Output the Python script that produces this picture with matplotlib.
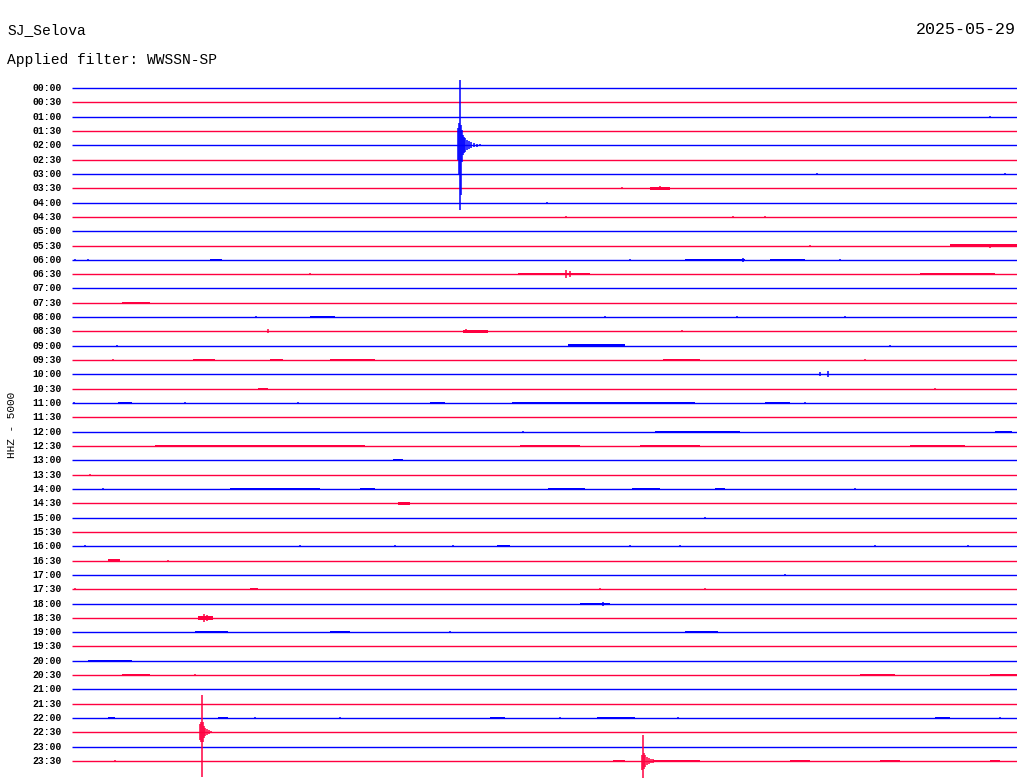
import matplotlib
matplotlib.use("Agg")
import matplotlib.pyplot as plt

# ---------------- data ----------------
station = "SJ_Selova"
date_label = "2025-05-29"
filter_label = "Applied filter: WWSSN-SP"
channel_label = "HHZ - 5000"

row_labels = [f"{h:02d}:{m:02d}" for h in range(24) for m in (0, 30)]
minutes_per_row = 30

# isolated spikes: (row, minute, amplitude up, amplitude down)  [amplitude units]
spikes = [
    (2, 29.14, 1, 1),
    (4, 12.25, 17, 15), (4, 12.29, 22, 30), (4, 12.32, 65, 65), (4, 12.35, 20, 50),
    (4, 12.38, 15, 17), (4, 12.41, 10, 10), (4, 12.44, 8, 8), (4, 12.48, 7, 7),
    (4, 12.54, 5, 5), (4, 12.60, 4, 4), (4, 12.67, 3, 3), (4, 12.76, 2, 2),
    (4, 12.86, 1.5, 1.5), (4, 12.95, 1, 1),
    (6, 23.65, 1, 1), (6, 29.62, 1, 1),
    (7, 17.46, 1, 1), (7, 18.67, 2, 2),
    (8, 15.08, 1, 1),
    (9, 15.68, 1, 1), (9, 20.98, 1, 1), (9, 22.0, 1, 1),
    (11, 23.43, 1, 1), (11, 29.14, 2, 2),
    (12, 0.10, 1, 1), (12, 0.51, 1, 1), (12, 17.71, 1, 1), (12, 21.30, 2, 2), (12, 24.38, 1, 1),
    (13, 7.56, 1, 1), (13, 15.68, 4, 4), (13, 15.80, 3, 3),
    (16, 5.84, 1, 1), (16, 16.92, 1, 1), (16, 21.11, 1, 1), (16, 24.54, 1, 1),
    (17, 6.22, 2, 2), (17, 12.50, 2, 2), (17, 13.05, 1.5, 1.5), (17, 19.37, 1, 1),
    (18, 1.43, 1, 1), (18, 25.97, 1, 1),
    (19, 1.30, 1, 1), (19, 25.17, 1, 1),
    (20, 23.75, 2, 2), (20, 24.00, 3, 3),
    (21, 27.40, 1, 1),
    (22, 0.05, 1, 1), (22, 3.59, 1, 1), (22, 7.17, 1, 1), (22, 23.27, 1, 1),
    (24, 14.32, 1, 1),
    (27, 0.57, 1, 1),
    (28, 0.98, 1, 1), (28, 24.86, 1, 1),
    (30, 20.10, 1, 1),
    (32, 0.41, 1, 1), (32, 7.24, 1, 1), (32, 10.25, 1, 1), (32, 12.10, 1, 1),
    (32, 17.71, 1, 1), (32, 19.30, 1, 1), (32, 25.49, 1, 1), (32, 28.44, 1, 1),
    (33, 3.05, 1, 1),
    (34, 22.63, 1, 1),
    (35, 0.10, 1, 1), (35, 16.76, 1, 1), (35, 20.10, 1, 1),
    (36, 16.86, 2, 2),
    (37, 4.20, 4, 4), (37, 4.30, 3, 3),
    (38, 12.00, 1, 1),
    (41, 3.90, 1, 1),
    (44, 5.81, 1, 1), (44, 8.51, 1, 1), (44, 15.49, 1, 1), (44, 19.24, 1, 1), (44, 29.46, 1, 1),
    (45, 4.07, 8, 8), (45, 4.10, 10, 10), (45, 4.13, 37, 45), (45, 4.16, 10, 10),
    (45, 4.19, 6, 6), (45, 4.22, 4, 4), (45, 4.29, 3, 3), (45, 4.35, 2, 2), (45, 4.41, 1, 1),
    (47, 1.37, 1, 1),
    (47, 18.10, 6, 9), (47, 18.13, 26, 17), (47, 18.16, 8, 8), (47, 18.19, 6, 6),
    (47, 18.25, 4, 4), (47, 18.32, 3, 3), (47, 18.38, 2, 2), (47, 18.44, 2, 2),
]

# noise bursts: (row, start minute, end minute, amplitude)
bands = [
    (7, 18.35, 18.98, 1),
    (11, 27.87, 30.0, 0.7),
    (12, 4.38, 4.76, 0.7), (12, 19.46, 21.37, 0.7), (12, 22.16, 23.27, 0.7),
    (13, 14.16, 16.44, 1), (13, 26.92, 29.30, 0.7),
    (15, 1.59, 2.48, 0.7),
    (16, 7.56, 8.35, 1),
    (17, 12.41, 13.21, 1),
    (18, 15.75, 17.56, 1),
    (19, 3.84, 4.54, 0.5), (19, 6.29, 6.70, 0.5), (19, 8.19, 9.62, 0.7), (19, 18.76, 19.94, 0.7),
    (21, 5.90, 6.22, 0.5),
    (22, 1.46, 1.90, 0.7), (22, 11.37, 11.84, 1), (22, 13.97, 19.78, 1), (22, 22.0, 22.79, 0.7),
    (24, 18.51, 21.21, 0.7), (24, 29.30, 29.84, 0.7),
    (25, 2.63, 7.40, 0.4), (25, 7.40, 9.30, 1), (25, 14.22, 16.13, 0.7),
    (25, 18.03, 19.94, 0.5), (25, 26.60, 28.35, 1),
    (26, 10.19, 10.51, 0.7),
    (28, 5.02, 7.87, 0.5), (28, 9.14, 9.62, 0.7), (28, 15.11, 16.29, 0.7),
    (28, 17.78, 18.67, 0.7), (28, 20.41, 20.73, 0.5),
    (29, 10.35, 10.73, 1.5),
    (32, 13.49, 13.90, 0.7),
    (33, 1.14, 1.52, 1.5),
    (35, 5.65, 5.90, 0.7),
    (36, 16.13, 17.08, 0.5),
    (37, 4.00, 4.48, 2),
    (38, 3.90, 4.95, 0.7), (38, 8.19, 8.83, 0.7), (38, 19.46, 20.51, 0.7),
    (40, 0.51, 1.90, 0.7),
    (41, 1.59, 2.48, 0.5), (41, 25.02, 26.13, 0.5), (41, 29.14, 30.0, 0.5),
    (44, 1.14, 1.37, 0.7), (44, 4.63, 4.95, 0.7), (44, 13.27, 13.75, 0.7),
    (44, 16.67, 17.87, 0.5), (44, 27.40, 27.87, 0.7),
    (47, 17.17, 17.56, 0.7), (47, 18.44, 19.30, 1), (47, 19.30, 19.94, 0.5),
    (47, 22.79, 23.43, 0.5), (47, 25.65, 26.29, 0.5), (47, 29.14, 29.46, 0.5),
]

# ---------------- style ----------------
BLUE = "#0000ff"
RED = "#ff0040"
row_colors = [BLUE if i % 2 == 0 else RED for i in range(len(row_labels))]
AMP_SCALE = 1 / 14.32  # amplitude units -> row spacing

W, H = 1024, 780
fig = plt.figure(figsize=(W / 100, H / 100), dpi=100)
fig.patch.set_facecolor("white")

top_px, bottom_px = 74, 775
row0_px, spacing_px = 88, 14.32
ax = fig.add_axes([72 / W, (H - bottom_px) / H, 945 / W, (bottom_px - top_px) / H])
ax.set_xlim(0, minutes_per_row)
ax.set_ylim((bottom_px - row0_px) / spacing_px, (top_px - row0_px) / spacing_px)
ax.axis("off")

rows = list(range(len(row_labels)))
ax.hlines(rows, 0, minutes_per_row, colors=row_colors, lw=1.0, zorder=2)

for (r, m, up, dn) in spikes:
    ax.vlines(m, r - up * AMP_SCALE, r + dn * AMP_SCALE, colors=row_colors[r],
              lw=1.1, zorder=3, clip_on=False)

for (r, s, e, a) in bands:
    half = (0.7 * a + 0.6) * AMP_SCALE
    ax.bar(s, 2 * half, width=e - s, bottom=r - half,
           align="edge", color=row_colors[r], lw=0, zorder=3)

label_font = dict(family="Liberation Mono", fontweight="bold", fontsize=7)
for r, lab in zip(rows, row_labels):
    ax.text(-10 / 31.5, r, lab, ha="right", va="center", **label_font)

fig.text(7 / W, 1 - 30 / H, station, ha="left", va="center",
         family="Liberation Mono", fontsize=10.5)
fig.text(7 / W, 1 - 60 / H, filter_label, ha="left", va="center",
         family="Liberation Mono", fontsize=10.5)
fig.text(1016 / W, 1 - 30 / H, date_label, ha="right", va="center",
         family="Liberation Mono", fontsize=12)
fig.text(12 / W, 1 - 425 / H, channel_label, ha="center", va="center", rotation=90,
         family="Liberation Mono", fontsize=8)

fig.savefig("out.png", dpi=100, facecolor="white")
